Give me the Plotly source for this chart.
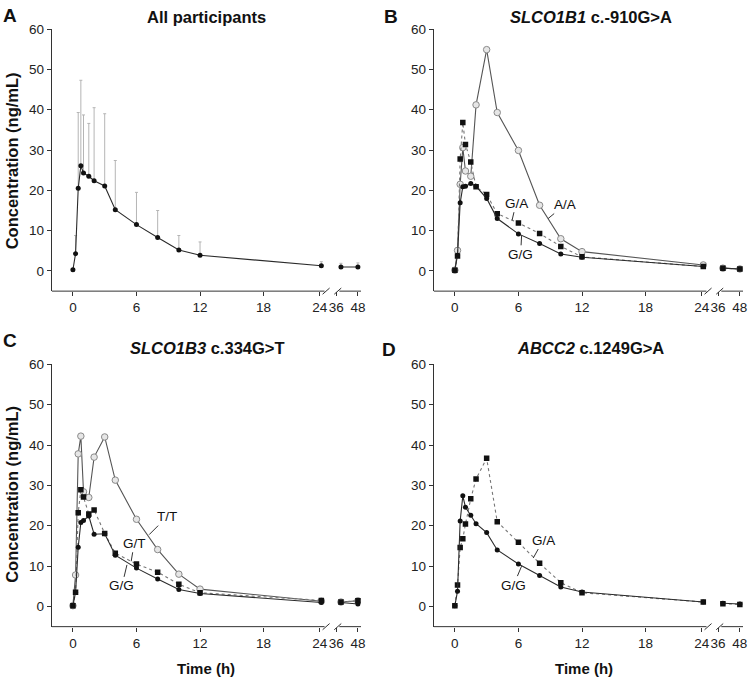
import plotly.graph_objects as go

# ---------------- data ----------------
time_h = [0, 0.25, 0.5, 0.75, 1, 1.5, 2, 3, 4, 6, 8, 10, 12, 24, 36, 48]
x_ticks = [0, 6, 12, 18, 24, 36, 48]

# Panel A - all participants (mean and SD)
all_mean = [0.3, 4.3, 20.5, 26.1, 24.3, 23.5, 22.4, 21.1, 15.2, 11.5, 8.3, 5.2, 3.9, 1.3, 1.0, 1.0]
all_sd = [0.0, 4.5, 18.8, 21.2, 14.4, 13.1, 18.1, 17.9, 12.2, 8.0, 6.7, 3.6, 3.3, 1.0, 0.9, 1.0]

# Panel B - SLCO1B1 c.-910G>A
b_gg = [0.2, 3.9, 16.9, 20.9, 21.0, 21.7, 21.0, 18.0, 13.0, 9.2, 6.8, 4.2, 3.4, 1.1, 0.7, 0.5]
b_ga = [0.2, 3.7, 27.8, 36.8, 31.4, 27.0, 20.9, 19.0, 14.2, 11.9, 9.3, 6.1, 3.5, 1.1, 0.7, 0.5]
b_aa = [0.2, 5.1, 21.5, 30.6, 24.8, 23.5, 41.2, 54.9, 39.3, 29.9, 16.3, 8.0, 4.8, 1.5, 0.7, 0.5]

# Panel C - SLCO1B3 c.334G>T
c_gg = [0.2, 3.5, 14.7, 20.8, 21.3, 22.4, 17.9, 18.0, 12.7, 9.5, 6.8, 4.2, 3.2, 1.0, 1.0, 0.6]
c_gt = [0.2, 3.5, 23.2, 28.9, 27.1, 22.9, 23.9, 18.1, 13.2, 10.5, 8.5, 5.5, 3.4, 1.5, 1.1, 1.4]
c_tt = [0.2, 7.8, 37.8, 42.2, 28.4, 27.0, 37.0, 42.0, 31.3, 21.6, 14.1, 8.0, 4.3, 1.3, 1.1, 1.4]

# Panel D - ABCC2 c.1249G>A
d_gg = [0.2, 3.8, 21.2, 27.4, 24.6, 22.6, 20.5, 18.3, 14.0, 10.5, 7.7, 4.8, 3.6, 1.1, 0.8, 0.6]
d_ga = [0.2, 5.3, 14.6, 16.8, 20.4, 26.7, 31.6, 36.7, 21.0, 15.9, 10.7, 5.9, 3.4, 1.1, 0.7, 0.5]

# ---------------- broken time axis ----------------
BREAK_POS = {24: 23.45, 36: 25.3, 48: 26.9}
TICK_POS = {24: 23.3, 36: 24.85, 48: 26.9}
XR = [-2.0, 27.2]
YR = [-5, 60]


def pos(t):
    return BREAK_POS.get(t, t)


def with_gap(vals):
    """Split the series between 24 h and 36 h (axis break)."""
    xs, ys = [], []
    for t, v in zip(time_h, vals):
        if t == 36:
            xs.append(None)
            ys.append(None)
        xs.append(pos(t))
        ys.append(v)
    return xs, ys


FONT = "Arial, Liberation Sans, Helvetica, sans-serif"
DARK = "#2b2b2b"
GREY = "#8a8a8a"

W, H = 752, 679
px_x = {1: (52, 363), 2: (436, 747), 3: (52, 363), 4: (436, 747)}
px_y = {1: (22.3, 287.1), 2: (22.3, 287.1), 3: (361.0, 626.1), 4: (361.0, 626.1)}

fig = go.Figure()


def sfx(i):
    return "" if i == 1 else str(i)


def add_solid_dot(i, vals, name):
    xs, ys = with_gap(vals)
    fig.add_trace(go.Scatter(x=xs, y=ys, mode="lines+markers", name=name,
                             xaxis="x" + sfx(i), yaxis="y" + sfx(i),
                             line=dict(color=DARK, width=1.1),
                             marker=dict(symbol="circle", size=5, color="#111"),
                             showlegend=False))


def add_square_dotted(i, vals, name):
    xs, ys = with_gap(vals)
    fig.add_trace(go.Scatter(x=xs, y=ys, mode="lines+markers", name=name,
                             xaxis="x" + sfx(i), yaxis="y" + sfx(i),
                             line=dict(color="#777", width=1.1, dash="dot"),
                             marker=dict(symbol="square", size=5.5, color="#111"),
                             showlegend=False))


def add_open_circle(i, vals, name):
    xs, ys = with_gap(vals)
    fig.add_trace(go.Scatter(x=xs, y=ys, mode="lines+markers", name=name,
                             xaxis="x" + sfx(i), yaxis="y" + sfx(i),
                             line=dict(color="#555", width=1.1),
                             marker=dict(symbol="circle", size=6.5, color="#e6e6e6",
                                         line=dict(color=GREY, width=1)),
                             showlegend=False))


# Panel A with SD error bars
fig.add_trace(go.Scatter(x=[pos(t) for t in time_h], y=all_mean, mode="markers",
                         xaxis="x", yaxis="y", showlegend=False,
                         marker=dict(size=1, color="rgba(0,0,0,0)"),
                         error_y=dict(type="data", symmetric=False, array=all_sd,
                                      arrayminus=[0] * len(all_sd),
                                      color="#b5b5b5", thickness=1, width=1.5)))
add_solid_dot(1, all_mean, "All participants")

# Panel B
add_open_circle(2, b_aa, "A/A")
add_square_dotted(2, b_ga, "G/A")
add_solid_dot(2, b_gg, "G/G")

# Panel C
add_open_circle(3, c_tt, "T/T")
add_square_dotted(3, c_gt, "G/T")
add_solid_dot(3, c_gg, "G/G")

# Panel D
add_square_dotted(4, d_ga, "G/A")
add_solid_dot(4, d_gg, "G/G")

layout = dict(width=W, height=H, margin=dict(l=0, r=0, t=0, b=0),
              paper_bgcolor="white", plot_bgcolor="white",
              font=dict(family=FONT, color="#222", size=13))

shapes = []
for i in range(1, 5):
    x0, x1 = px_x[i]
    ytop, ybot = px_y[i]
    dom_x = [x0 / W, x1 / W]
    dom_y = [1 - ybot / H, 1 - ytop / H]
    layout["xaxis" + sfx(i)] = dict(
        domain=dom_x, range=XR, anchor="y" + sfx(i),
        tickvals=[TICK_POS.get(t, t) for t in x_ticks],
        ticktext=[str(t) for t in x_ticks], tickangle=0,
        showline=False, showgrid=False, zeroline=False,
        ticks="outside", ticklen=4, tickcolor="#333",
        tickfont=dict(size=13.5, family=FONT, color="#222"))
    layout["yaxis" + sfx(i)] = dict(
        domain=dom_y, range=YR, anchor="x" + sfx(i),
        tickvals=[0, 10, 20, 30, 40, 50, 60],
        showline=True, linecolor="#333", linewidth=1,
        showgrid=False, zeroline=False,
        ticks="outside", ticklen=4, tickcolor="#333",
        tickfont=dict(size=13.5, family=FONT, color="#222"))
    yb = dom_y[0]
    xr = "x" + sfx(i)
    seg = dict(type="line", xref=xr, yref="paper", line=dict(color="#333", width=1))
    shapes.append(dict(seg, x0=XR[0], x1=23.75, y0=yb, y1=yb))
    shapes.append(dict(seg, x0=25.15, x1=XR[1], y0=yb, y1=yb))
    for c in (23.9, 25.0):
        shapes.append(dict(seg, x0=c - 0.33, x1=c + 0.33, y0=yb - 0.0046, y1=yb + 0.0046))
layout["shapes"] = shapes

ann = []


def txt(x, y, text, size, **kw):
    d = dict(x=x / W, y=1 - y / H, xref="paper", yref="paper", text=text,
             showarrow=False, font=dict(family=FONT, size=size, color="#111"),
             xanchor="center", yanchor="middle")
    d.update(kw)
    ann.append(d)


# panel letters
txt(10, 9, "<b>A</b>", 19)
txt(393, 10, "<b>B</b>", 19)
txt(10, 337, "<b>C</b>", 19)
txt(391, 346, "<b>D</b>", 19)
# panel titles
txt(208, 10, "<b>All participants</b>", 16.5)
txt(594, 10, "<b><i>SLCO1B1</i> c.-910G&gt;A</b>", 16.5)
txt(209, 345, "<b><i>SLCO1B3</i> c.334G&gt;T</b>", 16.5)
txt(594, 345, "<b><i>ABCC2</i> c.1249G&gt;A</b>", 16.5)
# axis titles
txt(12, 155, "<b>Concentration (ng/mL)</b>", 16.5, textangle=-90)
txt(12, 492, "<b>Concentration (ng/mL)</b>", 16.5, textangle=-90)
txt(207, 668, "<b>Time (h)</b>", 15)
txt(587, 668, "<b>Time (h)</b>", 15)


def lab(i, x, y, text, ax, ay):
    ann.append(dict(x=x, y=y, xref="x" + sfx(i), yref="y" + sfx(i), text=text,
                    showarrow=True, arrowhead=0, arrowwidth=1, arrowcolor="#333",
                    ax=ax, ay=ay, standoff=0, startstandoff=0,
                    font=dict(family=FONT, size=13.5, color="#111")))


lab(2, 5.4, 12.6, "G/A", 4, -17)
lab(2, 8.8, 13.0, "A/A", 17, -14)
lab(2, 6.3, 8.85, "G/G", -1, 19)
lab(3, 7.2, 17.8, "T/T", 18, -18)
lab(3, 5.5, 11.2, "G/T", 3, -18)
lab(3, 5.1, 10.3, "G/G", -5, 21)
lab(4, 7.4, 12.0, "G/A", 10, -18)
lab(4, 6.3, 10.0, "G/G", -8, 19)
layout["annotations"] = ann

fig.update_layout(**layout)
fig.write_html("out.html", config={"displayModeBar": False},
               post_script="document.body.style.margin='0';document.body.style.overflow='hidden';")
